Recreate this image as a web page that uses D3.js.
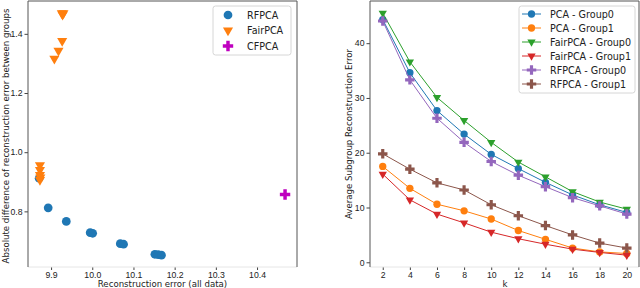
<!DOCTYPE html>
<html>
<head>
<meta charset="utf-8">
<script src="https://cdn.jsdelivr.net/npm/d3@7"></script>
<style>
  body { margin: 0; background: #fff; }
  svg { font-family: "DejaVu Sans", sans-serif; }
  .tick text { font-size: 8.7px; fill: #222; }
  .label { font-size: 8.6px; fill: #222; }
  .legend text { font-size: 9.6px; fill: #222; }
</style>
</head>
<body>
<div id="container"></div>
<script>
// left panel: tradeoff scatter
const rfpcaX = [9.871, 9.893, 9.937, 9.995, 10.001, 10.068, 10.076, 10.152, 10.160, 10.168];
const rfpcaY = [0.912, 0.812, 0.766, 0.728, 0.726, 0.691, 0.689, 0.655, 0.654, 0.652];
const fairX = [9.926, 9.930, 9.928, 9.927, 9.918, 9.908, 9.873, 9.873, 9.873, 9.873, 9.874];
const fairY = [1.470, 1.470, 1.465, 1.376, 1.343, 1.316, 0.956, 0.940, 0.923, 0.906, 0.915];
const cfpcaX = [10.468];
const cfpcaY = [0.857];
const leftXTicks = [9.9, 10.0, 10.1, 10.2, 10.3, 10.4];
const leftYTicks = [0.8, 1.0, 1.2, 1.4];

// right panel: error vs k
const ks = [2, 4, 6, 8, 10, 12, 14, 16, 18, 20];
const pcaG0 = [44.3, 34.6, 27.7, 23.4, 19.7, 17.1, 14.6, 12.3, 10.5, 9.1];
const pcaG1 = [17.5, 13.5, 10.6, 9.4, 7.9, 5.8, 4.2, 2.6, 1.9, 1.6];
const fairG0 = [45.5, 36.6, 30.1, 25.9, 21.9, 18.3, 15.6, 12.9, 11.0, 9.7];
const fairG1 = [16.1, 11.4, 8.8, 7.2, 5.5, 4.3, 3.3, 2.4, 1.8, 1.3];
const rfG0 = [44.05, 33.3, 26.3, 21.9, 18.4, 15.9, 13.8, 11.8, 10.3, 8.8];
const rfG1 = [19.8, 17.0, 14.5, 13.2, 10.5, 8.5, 6.7, 5.0, 3.5, 2.6];
const rightXTicks = [2, 4, 6, 8, 10, 12, 14, 16, 18, 20];
const rightYTicks = [0, 10, 20, 30, 40];

const W = 640, H = 288;
const svg = d3.select("#container").append("svg")
  .attr("width", W).attr("height", H);

const symCircle = (s) => d3.symbol().type(d3.symbolCircle).size(s)();
const symTri = (s) => d3.symbol().type(d3.symbolTriangle).size(s)();
const symPlus = (s) => d3.symbol().type(d3.symbolCross).size(s)();

function frame(g, x0, x1, y0, y1) {
  // matplotlib-ish spines: bottom faint, others gray
  g.append("line").attr("x1", x0).attr("x2", x1).attr("y1", y1).attr("y2", y1)
    .attr("stroke", "#e6e6e6").attr("stroke-width", 1);
  g.append("line").attr("x1", x0).attr("x2", x1).attr("y1", y0).attr("y2", y0)
    .attr("stroke", "#555").attr("stroke-width", 1);
  g.append("line").attr("x1", x0).attr("x2", x0).attr("y1", y0).attr("y2", y1)
    .attr("stroke", "#555").attr("stroke-width", 1);
  g.append("line").attr("x1", x1).attr("x2", x1).attr("y1", y0).attr("y2", y1)
    .attr("stroke", "#555").attr("stroke-width", 1);
}

function styleAxis(ax) {
  ax.select(".domain").remove();
  ax.selectAll(".tick line").attr("stroke", "#444");
}

// ---------- left ----------
const L = {x0: 28, x1: 297, y0: 1, y1: 267};
const xL = d3.scaleLinear().domain([9.844, 10.497]).range([L.x0, L.x1]);
const yL = d3.scaleLinear().domain([0.612, 1.511]).range([L.y1, L.y0]);
const left = svg.append("g");

left.append("g").attr("transform", `translate(0,${L.y1})`)
  .call(d3.axisBottom(xL).tickValues(leftXTicks).tickFormat(d3.format(".1f")).tickSize(3).tickPadding(2))
  .call(styleAxis);
left.append("g").attr("transform", `translate(${L.x0},0)`)
  .call(d3.axisLeft(yL).tickValues(leftYTicks).tickFormat(d3.format(".1f")).tickSize(3.5).tickPadding(2))
  .call(styleAxis);

const rfPts = rfpcaX.map((x, i) => [x, rfpcaY[i]]);
const fairPts = fairX.map((x, i) => [x, fairY[i]]);
const cfPts = cfpcaX.map((x, i) => [x, cfpcaY[i]]);

left.selectAll(".rf").data(rfPts).enter().append("path")
  .attr("d", symCircle(60)).attr("fill", "#1f77b4")
  .attr("transform", d => `translate(${xL(d[0])},${yL(d[1])})`);
left.selectAll(".fair").data(fairPts).enter().append("path")
  .attr("d", symTri(44)).attr("fill", "#ff7f0e")
  .attr("transform", d => `translate(${xL(d[0])},${yL(d[1])}) rotate(180)`);
left.selectAll(".cf").data(cfPts).enter().append("path")
  .attr("d", symPlus(60)).attr("fill", "#bf00bf")
  .attr("transform", d => `translate(${xL(d[0])},${yL(d[1])})`);

frame(left, L.x0, L.x1, L.y0, L.y1);

left.append("text").attr("class", "label")
  .attr("x", (L.x0 + L.x1) / 2).attr("y", 287).attr("text-anchor", "middle")
  .text("Reconstruction error (all data)");
left.append("text").attr("class", "label")
  .attr("transform", `translate(8.5,136) rotate(-90)`)
  .attr("text-anchor", "middle")
  .text("Absolute difference of reconstruction error between groups");

const legL = left.append("g").attr("class", "legend");
legL.append("rect").attr("x", 213).attr("y", 6).attr("width", 78).attr("height", 49)
  .attr("rx", 2.5).attr("fill", "#fff").attr("stroke", "#d6d6d6");
const legLItems = [
  {name: "RFPCA", d: symCircle(60), color: "#1f77b4", rot: 0},
  {name: "FairPCA", d: symTri(44), color: "#ff7f0e", rot: 180},
  {name: "CFPCA", d: symPlus(60), color: "#bf00bf", rot: 0}
];
legLItems.forEach((it, i) => {
  const yy = 15 + i * 15.5;
  legL.append("path").attr("d", it.d).attr("fill", it.color)
    .attr("transform", `translate(228,${yy}) rotate(${it.rot})`);
  legL.append("text").attr("x", 247).attr("y", yy + 3.5).text(it.name);
});

// ---------- right ----------
const R = {x0: 370, x1: 639, y0: 1, y1: 267};
const xR = d3.scaleLinear().domain([1.06, 20.9]).range([R.x0, R.x1]);
const yR = d3.scaleLinear().domain([-0.86, 47.7]).range([R.y1, R.y0]);
const right = svg.append("g");

right.append("g").attr("transform", `translate(0,${R.y1})`)
  .call(d3.axisBottom(xR).tickValues(rightXTicks).tickSize(3).tickPadding(2))
  .call(styleAxis);
right.append("g").attr("transform", `translate(${R.x0},0)`)
  .call(d3.axisLeft(yR).tickValues(rightYTicks).tickSize(3.5).tickPadding(2))
  .call(styleAxis);

const series = [
  {name: "PCA - Group0", vals: pcaG0, color: "#1f77b4", m: "c"},
  {name: "PCA - Group1", vals: pcaG1, color: "#ff7f0e", m: "c"},
  {name: "FairPCA - Group0", vals: fairG0, color: "#2ca02c", m: "t"},
  {name: "FairPCA - Group1", vals: fairG1, color: "#d62728", m: "t"},
  {name: "RFPCA - Group0", vals: rfG0, color: "#9467bd", m: "p"},
  {name: "RFPCA - Group1", vals: rfG1, color: "#8c564b", m: "p"}
];
const markerPath = m => m === "c" ? symCircle(42) : m === "t" ? symTri(30) : symPlus(50);
const markerRot = m => m === "t" ? 180 : 0;

const line = d3.line().x(d => xR(d[0])).y(d => yR(d[1]));

series.forEach(s => {
  const pts = ks.map((k, i) => [k, s.vals[i]]);
  right.append("path").datum(pts).attr("d", line)
    .attr("fill", "none").attr("stroke", s.color).attr("stroke-width", 1);
  right.selectAll(null).data(pts).enter().append("path")
    .attr("d", markerPath(s.m)).attr("fill", s.color)
    .attr("transform", d => `translate(${xR(d[0])},${yR(d[1])}) rotate(${markerRot(s.m)})`);
});

frame(right, R.x0, R.x1, R.y0, R.y1);

right.append("text").attr("class", "label")
  .attr("x", 505).attr("y", 287).attr("text-anchor", "middle").text("k");
right.append("text").attr("class", "label")
  .attr("transform", `translate(352,${(R.y0 + R.y1) / 2}) rotate(-90)`)
  .attr("text-anchor", "middle")
  .text("Average Subgroup Reconstruction Error");

const legR = right.append("g").attr("class", "legend");
legR.append("rect").attr("x", 519).attr("y", 6).attr("width", 116).attr("height", 87)
  .attr("rx", 2.5).attr("fill", "#fff").attr("stroke", "#d6d6d6");
series.forEach((s, i) => {
  const yy = 14 + i * 14;
  legR.append("line").attr("x1", 522).attr("x2", 541).attr("y1", yy).attr("y2", yy)
    .attr("stroke", s.color).attr("stroke-width", 1);
  legR.append("path").attr("d", markerPath(s.m)).attr("fill", s.color)
    .attr("transform", `translate(531.5,${yy}) rotate(${markerRot(s.m)})`);
  legR.append("text").attr("x", 550).attr("y", yy + 3.5).text(s.name);
});
</script>
</body>
</html>
